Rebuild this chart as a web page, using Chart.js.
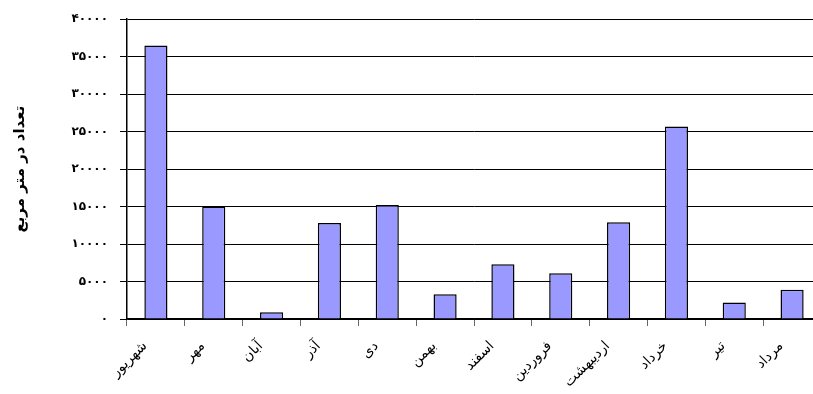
<!DOCTYPE html>
<html>
<head>
<meta charset="utf-8">
<script src="https://cdn.jsdelivr.net/npm/chart.js@4"></script>
<style>
  body { margin: 0; overflow: hidden; background: #fff; }
  #wrap { width: 830px; height: 394px; }
</style>
</head>
<body>
<div id="wrap"><canvas id="chart" width="830" height="394"></canvas></div>
<script>
// monthly counts per square metre
const months = ['شهریور', 'مهر', 'آبان', 'آذر', 'دی', 'بهمن', 'اسفند', 'فروردین', 'اردیبهشت', 'خرداد', 'تیر', 'مرداد']
const counts = [36500, 15000, 900, 12800, 15200, 3300, 7300, 6100, 12900, 25700, 2200, 3900]
const yMax = 40000
const yStep = 5000
const yTitle = 'تعداد در متر مربع'

const faDigits = '۰۱۲۳۴۵۶۷۸۹'
const toFa = (n) => String(n).replace(/\d/g, (d) => faDigits[d])

const fontFamily = '"DejaVu Sans", "Liberation Sans", sans-serif'

new Chart(document.getElementById('chart'), {
	type: 'bar',
	data: {
		labels: months,
		datasets: [
			{
				data: counts,
				backgroundColor: '#9999ff',
				borderColor: '#000000',
				borderWidth: 1.5,
				barPercentage: 0.4,
				categoryPercentage: 1,
			},
		],
	},
	options: {
		responsive: false,
		animation: false,
		layout: { padding: { top: 19, right: 9, left: 0, bottom: 0 } },
		plugins: { legend: { display: false }, tooltip: { enabled: false } },
		scales: {
			x: {
				grid: {
					offset: true,
					drawOnChartArea: false,
					color: '#666666',
					tickLength: 7,
				},
				border: { color: '#000000', width: 1.5 },
				ticks: {
					autoSkip: false,
					minRotation: 45,
					maxRotation: 45,
					padding: 12,
					labelOffset: -11,
					color: '#000000',
					font: { family: fontFamily, size: 14 },
				},
				afterFit: (scale) => { scale.height = 75 },
			},
			y: {
				min: 0,
				max: yMax,
				grid: { color: '#000000', lineWidth: 1, tickLength: 7 },
				border: { color: '#000000', width: 1.5 },
				ticks: {
					stepSize: yStep,
					padding: 12,
					color: '#000000',
					font: { family: fontFamily, size: 12, weight: 'bold' },
					callback: (v) => toFa(v),
				},
				title: {
					display: true,
					text: yTitle,
					color: '#000000',
					padding: { top: 11, bottom: 0 },
					font: { family: fontFamily, size: 15, weight: 'bold' },
				},
				afterFit: (scale) => { scale.width = 127 },
			},
		},
	},
})
</script>
</body>
</html>
